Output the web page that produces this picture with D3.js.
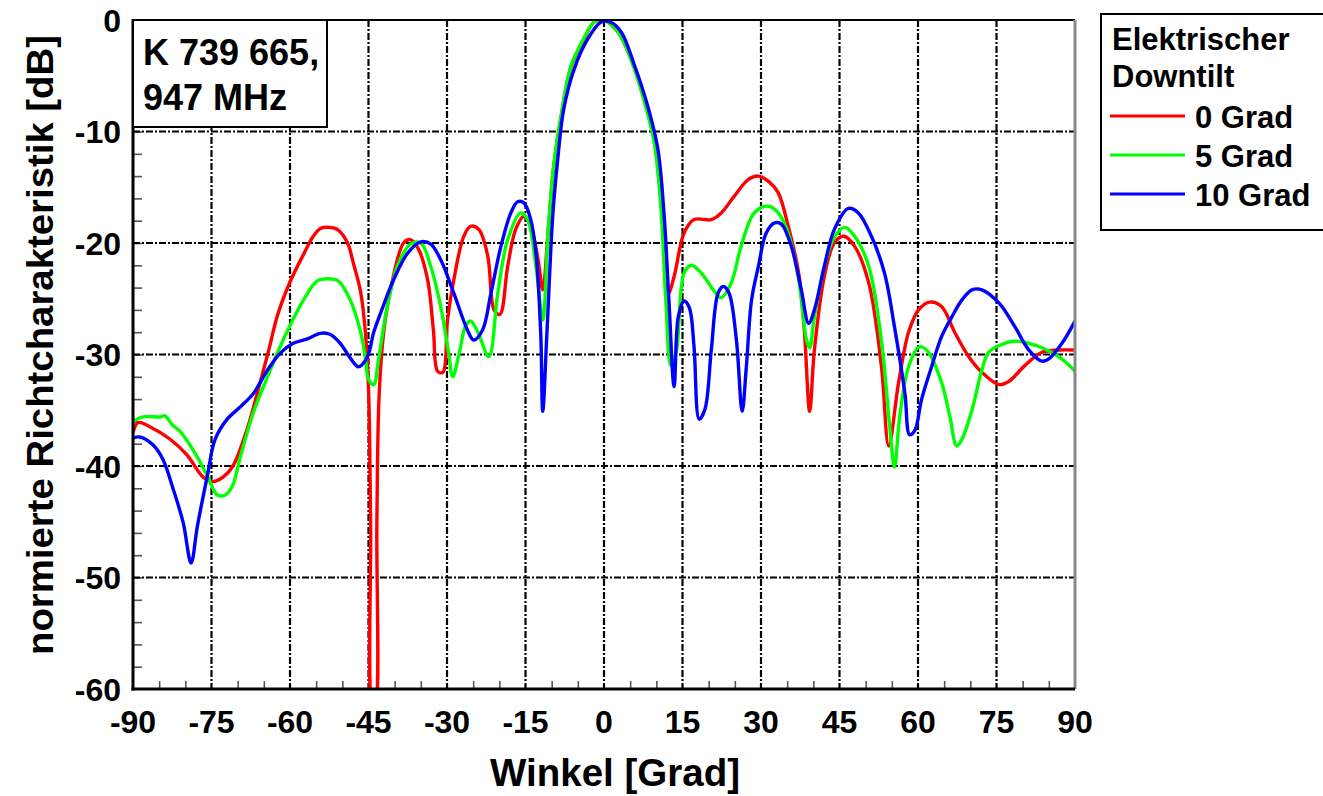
<!DOCTYPE html>
<html>
<head>
<meta charset="utf-8">
<script src="https://cdn.jsdelivr.net/npm/d3@7"></script>
<style>
  body { margin: 0; background: #fff; }
  svg { display: block; font-family: "Liberation Sans", Arial, sans-serif; font-weight: bold; }
</style>
</head>
<body>
<svg id="chart" width="1323" height="796"></svg>
<script>
// Winkel [Grad] / normierte Richtcharakteristik [dB]
var angles0 = [-90,-89,-86.7,-82.9,-79.7,-76.6,-74.7,-72.8,-70.9,-68.2,-65.7,-64,-62.4,-60,-57.4,-55.7,-54.2,-52.5,-50.9,-49,-47.9,-46.5,-45.6,-45,-44.6,-44.2,-43.8,-43.4,-43,-42.1,-40.8,-38.3,-37,-35.5,-33.7,-32.6,-31.8,-30.8,-29.9,-28.7,-26.8,-25.5,-23.9,-22.2,-21,-19.9,-18.4,-16.9,-15.3,-14,-12.6,-11.7,-10.7,-9.6,-8.2,-6.3,-3.8,-1.9,0,2.7,5.2,7.7,9.6,10.9,12.3,13.4,15.3,17.2,20.5,22.4,24.9,27.6,29.5,31.5,33.3,35.2,37.2,38.3,39.3,40.2,42.1,44,45.8,47.9,50.6,53,54.4,56.3,58.2,60.1,62.2,64.5,67,69.7,72.2,75.5,77.4,80.4,83.7,86.9,90];
var db0 = [-37,-36.1,-36.5,-37.6,-39,-41,-41.4,-41,-40,-36.7,-32.5,-29.5,-26.5,-23.5,-21,-19.5,-18.7,-18.6,-18.8,-20,-21.8,-24.4,-28,-33,-45,-62,-62,-45,-34,-28,-24.2,-20,-19.7,-20.5,-23.3,-27.8,-31.5,-31.6,-26.9,-23.3,-19.4,-18.5,-18.8,-21.2,-26,-26.4,-22.1,-18.8,-17.6,-18.5,-21.5,-24.2,-19.1,-13.1,-8.7,-4.2,-1.7,-0.2,0,-1.1,-3.5,-7.1,-10.7,-16.1,-24.5,-23,-19.1,-17.9,-17.9,-17.3,-15.8,-14.3,-14,-14.5,-15.5,-18.5,-22.7,-28,-35.1,-29.6,-23,-20,-19.4,-20.3,-23.6,-31,-38.2,-32.5,-28,-26,-25.3,-25.7,-28,-30.2,-31.6,-32.7,-32.4,-31,-29.8,-29.6,-29.6];

var angles5 = [-90,-88.1,-84.8,-83.9,-82.5,-81,-77.7,-75.8,-73.9,-72.4,-71,-69.5,-67,-64.3,-61.9,-59.9,-57.4,-54.8,-52.7,-50.8,-48.5,-46.5,-45.6,-45,-44,-43.1,-42.1,-41.4,-39.5,-37,-35,-33.1,-31.2,-29.7,-28.9,-27.5,-26.5,-25.5,-24.1,-22,-20.3,-18.4,-15.9,-14.6,-13,-11.7,-10.7,-9.6,-8.2,-6.3,-3.8,-1.9,0,2.7,5.2,7.7,9.6,10.9,11.8,12.8,13.8,15.3,16.7,18.6,20.9,22.4,24.3,26.2,28.7,31.4,33.3,35.2,37.2,38.7,39.3,40.2,42.1,44,46,47.9,50.6,53,54.6,55.5,56.5,58.2,60.3,62,64.5,66.1,67.4,68.4,70.3,72.2,73.5,76,78.5,81.2,83.7,86.9,90];
var db5 = [-36,-35.6,-35.6,-35.5,-36.3,-36.9,-39.2,-40.9,-42.6,-42.6,-41.8,-39.2,-35.2,-32,-29.3,-27.3,-25.1,-23.4,-23.2,-23.4,-25.1,-28,-30.3,-32.2,-32.7,-30.5,-27.5,-25.7,-22.1,-20.1,-20,-22.1,-25.7,-29.8,-32,-29.5,-27.5,-27,-28,-30.2,-24.5,-19.7,-17.3,-17.9,-22.1,-26.9,-19.1,-13,-8.6,-4.1,-1.6,-0.2,0,-1.1,-3.6,-7.3,-11,-17,-25,-31,-29.8,-22.7,-22,-22.7,-24.2,-24.9,-23.6,-20.3,-17.3,-16.7,-17.3,-19.1,-23.3,-28.7,-29.4,-26.6,-22.1,-19.5,-18.6,-19.4,-22.1,-28.7,-36.5,-40.1,-35.6,-31.1,-29.3,-29.8,-32.5,-35.6,-38.2,-37.6,-35,-31.4,-29.8,-29.1,-28.8,-29,-29.4,-30.2,-31.5];

var angles10 = [-90,-88.7,-86.2,-84.3,-82.3,-80.4,-78.9,-77.7,-75.8,-74.3,-72,-69.5,-67,-64.3,-61.9,-59.4,-56.7,-54.2,-52.3,-50.4,-48.5,-46.9,-45.2,-44,-42.7,-40.2,-37.5,-35,-33.1,-31.2,-28.7,-26.1,-24.9,-23.2,-21.6,-19.7,-17.8,-16.5,-15.3,-14,-13,-12.1,-11.7,-10.9,-9.8,-8.8,-7.7,-5.7,-3.1,-0.6,1.3,3.3,5.7,8.4,10.3,11.5,12.4,13.4,14.2,15.3,16.3,17.2,18.2,19.3,20.5,21.8,22.8,23.9,25.3,26.4,27.2,28.2,29.5,31,32.6,33.9,35.8,37.7,39.1,40.2,42.1,44,46.7,48.6,51.1,53.6,55.5,57.5,58.4,59.4,60.7,62.6,64.5,66.5,68.4,70.3,72.2,75.5,78.5,81.2,83.7,85,87.5,90];
var db10 = [-37.5,-37.4,-38.1,-39.4,-42.1,-45.1,-48.7,-45.4,-40.9,-37.6,-35.8,-34.7,-33.5,-31.4,-29.9,-29,-28.6,-28.1,-28.2,-29,-30.3,-31.1,-30.2,-28,-26.3,-23.3,-20.9,-19.9,-20.1,-21.5,-24.5,-27.8,-28.7,-27.8,-24.5,-20.3,-17.3,-16.3,-16.4,-17.9,-20.9,-28,-35.1,-28,-17.6,-12.3,-8,-4.4,-1.7,-0.2,-0.2,-1.1,-3.9,-7.8,-11.6,-17.6,-25.1,-32.9,-26.6,-25.2,-25.8,-29.3,-35.8,-34.9,-29.6,-24.5,-23.9,-24.5,-28.7,-35.1,-31.1,-25.1,-22.1,-19.1,-18.2,-18.3,-20.3,-24.2,-27.2,-26,-22.1,-18.8,-16.9,-17.3,-19.4,-22.7,-27.5,-33.5,-37.2,-36.8,-34,-31.1,-28.4,-26.6,-25.1,-24.2,-24.2,-25.4,-27.5,-29.6,-30.6,-30.4,-29,-27];

var seriesNames = ['0 Grad', '5 Grad', '10 Grad'];
var seriesColors = ['#ff0000', '#00ff00', '#0000ff'];
var xMajorTicks = [-90,-75,-60,-45,-30,-15,0,15,30,45,60,75,90];
var yMajorTicks = [0,-10,-20,-30,-40,-50,-60];
var infoLines = ['K 739 665,', '947 MHz'];
var legendTitle = ['Elektrischer', 'Downtilt'];

var svg = d3.select('#chart');
var plotL = 133, plotR = 1075, plotT = 20, plotB = 689;

var x = d3.scaleLinear().domain([-90, 90]).range([plotL, plotR]);
var y = d3.scaleLinear().domain([-60, 0]).range([plotB, plotT]);

svg.append('defs').append('clipPath').attr('id', 'plotClip')
  .append('rect').attr('x', plotL).attr('y', plotT).attr('width', plotR - plotL).attr('height', plotB - plotT);

// minor ticks
var xMinor = d3.range(-85, 90, 5).filter(function(d){ return d % 15 !== 0; });
var yMinor = d3.range(-58, 0, 2).filter(function(d){ return d % 10 !== 0; });

svg.append('g').attr('transform', 'translate(0,' + plotB + ')')
  .call(d3.axisBottom(x).tickValues(xMinor).tickSize(-8).tickFormat(''))
  .call(function(g){ g.select('.domain').remove(); g.selectAll('line').attr('stroke', '#555').attr('stroke-width', 1.6); });

svg.append('g').attr('transform', 'translate(' + plotL + ',0)')
  .call(d3.axisLeft(y).tickValues(yMinor.concat([-10,-20,-30,-40,-50])).tickSize(-9).tickFormat(''))
  .call(function(g){ g.select('.domain').remove(); g.selectAll('line').attr('stroke', '#555').attr('stroke-width', 1.6); });

// grid
var grid = svg.append('g');
grid.selectAll('line.v').data(xMajorTicks.slice(1, -1)).enter().append('line')
  .attr('class', 'v')
  .attr('x1', function(d){ return x(d); }).attr('x2', function(d){ return x(d); })
  .attr('y1', plotT).attr('y2', plotB)
  .attr('stroke', '#000').attr('stroke-width', 2.2).attr('stroke-dasharray', '7,2,2,2');
grid.selectAll('line.h').data([-10,-20,-30,-40,-50]).enter().append('line')
  .attr('class', 'h')
  .attr('y1', function(d){ return y(d); }).attr('y2', function(d){ return y(d); })
  .attr('x1', plotL).attr('x2', plotR)
  .attr('stroke', '#000').attr('stroke-width', 2.2).attr('stroke-dasharray', '7,2,2,2');

// curves
var line = d3.line()
  .x(function(d){ return x(d[0]); })
  .y(function(d){ return y(d[1]); })
  .curve(d3.curveCatmullRom.alpha(0.5));

var allSeries = [d3.zip(angles0, db0), d3.zip(angles5, db5), d3.zip(angles10, db10)];
svg.append('g').attr('clip-path', 'url(#plotClip)')
  .selectAll('path').data(allSeries).enter().append('path')
  .attr('d', line)
  .attr('fill', 'none')
  .attr('stroke', function(d, i){ return seriesColors[i]; })
  .attr('stroke-width', 3.4)
  .attr('stroke-linejoin', 'round');

// frame
svg.append('line').attr('x1', plotL).attr('x2', plotR).attr('y1', plotT).attr('y2', plotT)
  .attr('stroke', '#000').attr('stroke-width', 2);
svg.append('line').attr('x1', plotR).attr('x2', plotR).attr('y1', plotT).attr('y2', plotB)
  .attr('stroke', '#888').attr('stroke-width', 3);
svg.append('line').attr('x1', plotL).attr('x2', plotL).attr('y1', plotT - 1).attr('y2', plotB + 1.5)
  .attr('stroke', '#000').attr('stroke-width', 3);
svg.append('line').attr('x1', plotL - 1.5).attr('x2', plotR).attr('y1', plotB).attr('y2', plotB)
  .attr('stroke', '#000').attr('stroke-width', 3);

// tick labels
svg.append('g').selectAll('text').data(xMajorTicks).enter().append('text')
  .attr('x', function(d){ return x(d); }).attr('y', 733)
  .attr('text-anchor', 'middle').attr('font-size', 32)
  .text(function(d){ return d; });
svg.append('g').selectAll('text').data(yMajorTicks).enter().append('text')
  .attr('x', 121).attr('y', function(d){ return y(d) + 11.5; })
  .attr('text-anchor', 'end').attr('font-size', 32)
  .text(function(d){ return d; });

// axis titles
svg.append('text').attr('x', 615).attr('y', 786).attr('text-anchor', 'middle')
  .attr('font-size', 38).attr('textLength', 250).attr('lengthAdjust', 'spacingAndGlyphs')
  .text('Winkel [Grad]');
svg.append('text').attr('transform', 'translate(53,345) rotate(-90)').attr('text-anchor', 'middle')
  .attr('font-size', 37).attr('textLength', 620).attr('lengthAdjust', 'spacingAndGlyphs')
  .text('normierte Richtcharakteristik [dB]');

// info box
svg.append('rect').attr('x', plotL).attr('y', plotT).attr('width', 194).attr('height', 107)
  .attr('fill', '#fff').attr('stroke', '#000').attr('stroke-width', 2);
svg.append('g').selectAll('text').data(infoLines).enter().append('text')
  .attr('x', 143).attr('y', function(d, i){ return 65 + i * 45; })
  .attr('font-size', 36)
  .text(function(d){ return d; });

// legend
var legend = svg.append('g');
legend.append('rect').attr('x', 1101).attr('y', 14).attr('width', 240).attr('height', 216)
  .attr('fill', '#fff').attr('stroke', '#000').attr('stroke-width', 2);
legend.selectAll('text.t').data(legendTitle).enter().append('text')
  .attr('x', 1112).attr('y', function(d, i){ return 50 + i * 37; })
  .attr('font-size', 31).text(function(d){ return d; });
var items = legend.selectAll('g.item').data(seriesNames).enter().append('g')
  .attr('transform', function(d, i){ return 'translate(0,' + (116 + i * 39) + ')'; });
items.append('line').attr('x1', 1110).attr('x2', 1185).attr('y1', 0).attr('y2', 0)
  .attr('stroke', function(d, i){ return seriesColors[i]; }).attr('stroke-width', 3);
items.append('text').attr('x', 1195).attr('y', 12).attr('font-size', 31)
  .text(function(d){ return d; });
</script>
</body>
</html>
